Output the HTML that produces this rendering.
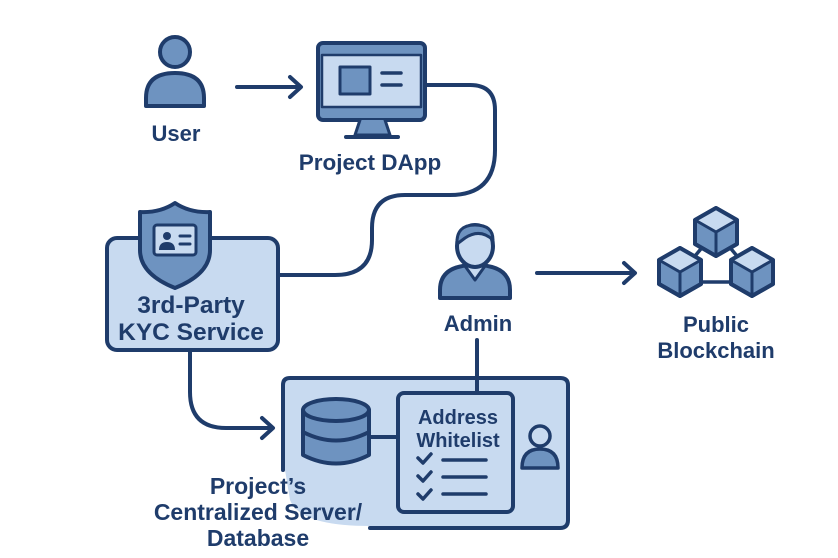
<!DOCTYPE html>
<html><head><meta charset="utf-8"><style>html,body{margin:0;padding:0;background:#fff}svg{display:block}text{font-family:"Liberation Sans",sans-serif;font-weight:bold;fill:#1f3c6b;text-anchor:middle}</style></head><body>
<svg width="838" height="558" viewBox="0 0 838 558" xmlns="http://www.w3.org/2000/svg">
<defs>
<g id="cube"><polygon points="0,-24 21,-12 21,12 0,24 -21,12 -21,-12" fill="#6e93c0" stroke="#1f3c6b" stroke-width="4" stroke-linejoin="round"/><polygon points="0,-24 21,-12 0,0 -21,-12" fill="#c8daf0"/><polyline points="-21,-12 0,0 21,-12 M0,0" fill="none" stroke="#1f3c6b" stroke-width="3"/><line x1="0" y1="0" x2="0" y2="24" stroke="#1f3c6b" stroke-width="3"/><polygon points="0,-24 21,-12 21,12 0,24 -21,12 -21,-12" fill="none" stroke="#1f3c6b" stroke-width="4" stroke-linejoin="round"/></g>
</defs>
<g stroke="#1f3c6b" stroke-width="4" fill="none" stroke-linecap="round" stroke-linejoin="round">
<circle cx="175" cy="52" r="15" fill="#6e93c0"/>
<path d="M146,106 V98 Q146,73 175,73 Q204,73 204,98 V106 Z" fill="#6e93c0"/>
<path d="M237,87 H300 M290,77 L301,87 L290,97"/>
<rect x="318" y="43" width="107" height="77" rx="5" fill="#6e93c0"/>
<rect x="322" y="55" width="99" height="52" fill="#c8daf0" stroke-width="2.5"/>
<rect x="340" y="67" width="30" height="27" fill="#6e93c0" stroke-width="3"/>
<path d="M382,73 H401 M382,85 H401" stroke-width="3.5"/>
<path d="M360,120 L355,135 H390 L385,120" fill="#6e93c0" stroke-width="3"/>
<path d="M346,137 H398"/>
<path d="M425,85 H470 Q495,85 495,110 V150 Q495,195 450,195 H405 Q372,195 372,228 V240 Q372,275 335,275 H278"/>
<rect x="107" y="238" width="171" height="112" rx="10" fill="#c8daf0"/>
<path d="M175,203 Q190,213 210,212 V250 Q210,274 175,288 Q140,274 140,250 V212 Q160,213 175,203 Z" fill="#6e93c0"/>
<rect x="154" y="225" width="42" height="30" rx="3" fill="#c8daf0" stroke-width="3"/>
<circle cx="167" cy="236" r="4" fill="#1f3c6b" stroke="none"/>
<path d="M159,250 Q159,242 167,242 Q175,242 175,250 Z" fill="#1f3c6b" stroke="none"/>
<path d="M180,236 H190 M180,244 H190" stroke-width="3"/>
<path d="M190,352 V392 Q190,428 226,428 H272 M262,418 L273,428 L262,438"/>
<path d="M285,380 H566 V526 H370 Q300,526 290,500 L285,470 Z" fill="#c8daf0" stroke="none"/>
<path d="M283,470 V385 Q283,378 290,378 H560 Q568,378 568,385 V520 Q568,528 560,528 H370"/>
<path d="M303,410 V455 Q336,472 369,455 V410" fill="#6e93c0"/>
<ellipse cx="336" cy="410" rx="33" ry="11" fill="#6e93c0"/>
<path d="M303,432 Q336,449 369,432"/>
<path d="M370,437 H398"/>
<path d="M477,340 V393"/>
<rect x="398" y="393" width="115" height="119" rx="6" fill="#c8daf0"/>
<path d="M418,458 L423,463 L431,454 M418,476 L423,481 L431,472 M418,494 L423,499 L431,490" stroke-width="3.5"/>
<path d="M443,460 H486 M443,477 H486 M443,494 H486" stroke-width="3.5"/>
<circle cx="540" cy="436" r="10" fill="#c8daf0" stroke-width="3.5"/>
<path d="M522,468 Q522,449 540,449 Q558,449 558,468 Z" fill="#6e93c0" stroke-width="3.5"/>
<path d="M440,298 V290 Q440,265 475,265 Q510,265 510,290 V298 Z" fill="#6e93c0"/>
<path d="M465,266 L475,280 L485,266" fill="#c8daf0" stroke-width="3"/>
<ellipse cx="475" cy="246" rx="18" ry="21" fill="#c8daf0"/>
<path d="M457,244 Q456,225 475,225 Q493,225 493,240 Q480,228 465,238 Z" fill="#6e93c0" stroke-width="3"/>
<path d="M537,273 H634 M624,263 L635,273 L624,283"/>
<path d="M690,262 L705,244 M727,244 L742,262 M690,282 H742" stroke-width="3.5"/>
</g>
<use href="#cube" x="716" y="232"/>
<use href="#cube" x="680" y="272"/>
<use href="#cube" x="752" y="272"/>
<text x="176" y="141" font-size="22">User</text>
<text x="370" y="170" font-size="22.5">Project DApp</text>
<text x="191" y="313" font-size="24.5">3rd-Party</text>
<text x="191" y="340" font-size="24.5">KYC Service</text>
<text x="478" y="331" font-size="22">Admin</text>
<text x="716" y="332" font-size="22">Public</text>
<text x="716" y="358" font-size="22">Blockchain</text>
<text x="458" y="424" font-size="20">Address</text>
<text x="458" y="447" font-size="20">Whitelist</text>
<text x="258" y="494" font-size="23">Project’s</text>
<text x="258" y="520" font-size="23">Centralized Server/</text>
<text x="258" y="546" font-size="23">Database</text>
</svg>
</body></html>
